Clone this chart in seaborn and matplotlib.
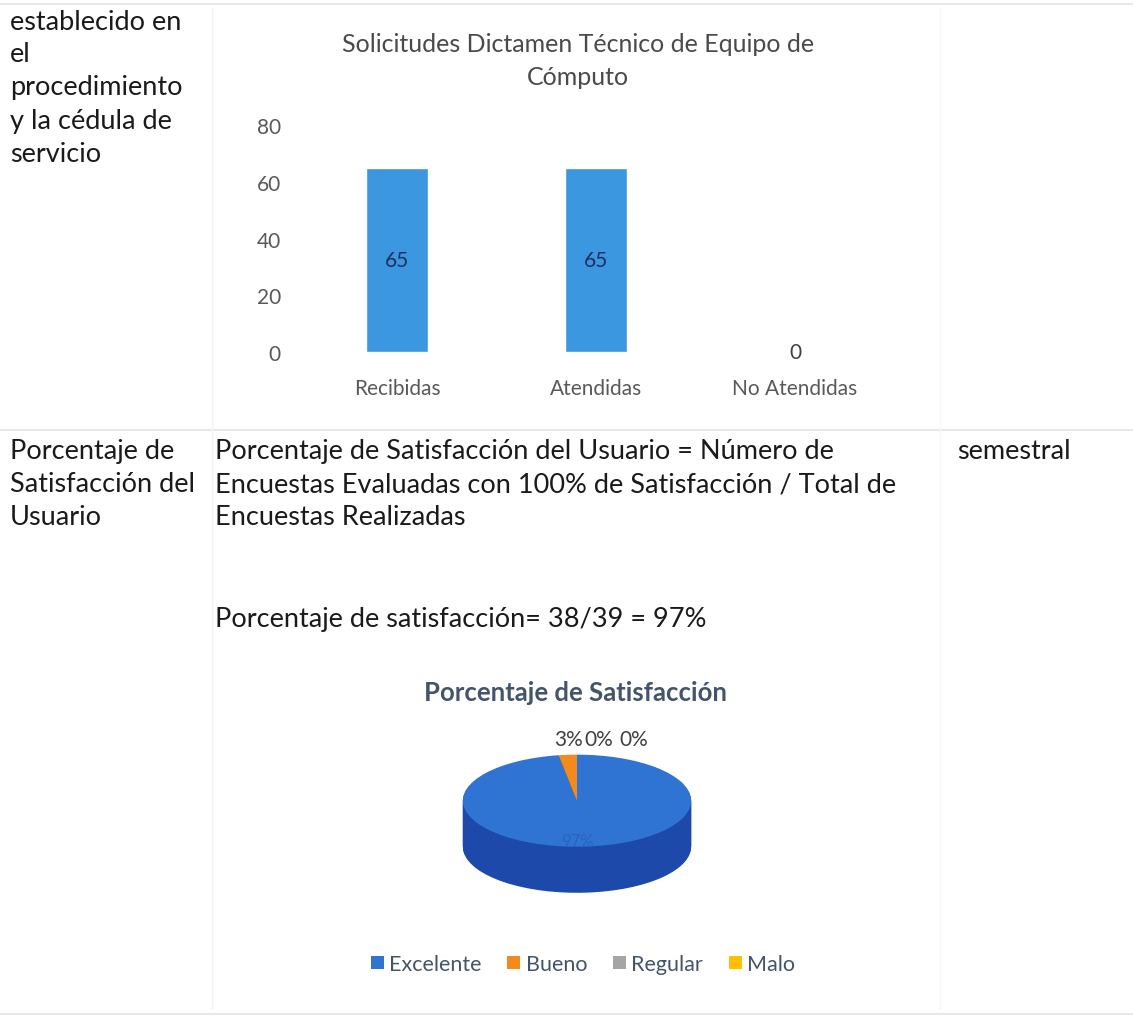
import numpy as np
import pandas as pd
import seaborn as sns
import matplotlib.pyplot as plt
from matplotlib.lines import Line2D
from matplotlib.patches import Patch

# ---- data ----
bar_categories = ["Recibidas", "Atendidas", "No Atendidas"]
bar_values = [65, 65, 0]
bar_yticks = [0, 20, 40, 60, 80]

pie_categories = ["Excelente", "Bueno", "Regular", "Malo"]
pie_counts = [38, 1, 0, 0]
pie_colors = ["#3074D3", "#F28A1C", "#A5A5A5", "#FFC000"]
pie_side_colors = ["#1C49AA", "#C0660E", "#7F7F7F", "#C99700"]

sns.set_theme(style="white")
plt.rcParams["font.family"] = ["Lato", "DejaVu Sans"]

W, H = 1133, 1020
fig = plt.figure(figsize=(W / 100, H / 100), dpi=100)
fig.patch.set_facecolor("white")


def px(x, y):
    return x / W, 1 - y / H


body_color = "#1a1a1a"
body_size = 19.5

# ---- table rules ----
for yy in (5, 431, 1015):
    fig.add_artist(Line2D([0, 1], [1 - yy / H] * 2, color="#e8e8e8", lw=1.5))
fig.add_artist(Line2D([212 / W] * 2, [1 - 8 / H, 1 - 1010 / H], color="#f4f4f4", lw=1.0))
fig.add_artist(Line2D([940 / W] * 2, [1 - 8 / H, 1 - 1010 / H], color="#f6f6f6", lw=1.0))

# ---- document text ----
left_lines = ["establecido en", "el", "procedimiento", "y la cédula de", "servicio"]
for i, t in enumerate(left_lines):
    fig.text(*px(10, 22 + 33 * i), t, fontsize=body_size, color=body_color, va="center", ha="left")

row2_left = ["Porcentaje de", "Satisfacción del", "Usuario"]
for i, t in enumerate(row2_left):
    fig.text(*px(10, 452 + 33 * i), t, fontsize=body_size, color=body_color, va="center", ha="left")

row2_mid = ["Porcentaje de Satisfacción del Usuario = Número de",
            "Encuestas Evaluadas con 100% de Satisfacción / Total de",
            "Encuestas Realizadas"]
for i, t in enumerate(row2_mid):
    fig.text(*px(215, 452 + 33 * i), t, fontsize=body_size, color=body_color, va="center", ha="left")

fig.text(*px(957, 452), "semestral", fontsize=body_size, color=body_color, va="center", ha="left")
fig.text(*px(215, 620), "Porcentaje de satisfacción= 38/39 = 97%", fontsize=body_size,
         color=body_color, va="center", ha="left")

# ---- bar chart ----
ax = fig.add_axes([297.5 / W, 1 - 353 / H, 597 / W, (353 - 126) / H])
df = pd.DataFrame({"cat": bar_categories, "val": bar_values})
sns.barplot(data=df, x="cat", y="val", color="#3A97E0", width=0.31, saturation=1, ax=ax)
ax.set_xlim(-0.5, 2.5)
ax.set_ylim(0, 80)
ax.set_yticks(bar_yticks)
ax.set_xlabel("")
ax.set_ylabel("")
for s in ax.spines.values():
    s.set_visible(False)
ax.tick_params(axis="both", length=0, labelsize=15, labelcolor="#595959")
ax.tick_params(axis="y", pad=12)
ax.tick_params(axis="x", pad=19)
labels = ax.bar_label(ax.containers[0], labels=[str(v) for v in bar_values],
                      label_type="center", fontsize=15)
for lab, v in zip(labels, bar_values):
    lab.set_color("#1F2F5F" if v > 0 else "#404040")
fig.text(*px(578, 45), "Solicitudes Dictamen Técnico de Equipo de", fontsize=18,
         color="#4a4a4a", ha="center", va="center")
fig.text(*px(578, 78), "Cómputo", fontsize=18, color="#4a4a4a", ha="center", va="center")

# ---- pie chart (extruded ellipse) ----
pax = fig.add_axes([440 / W, 1 - 903 / H, 274 / W, (903 - 728) / H])
depth = 1.0
for d in np.linspace(depth, 0.02, 45):
    pax.pie(pie_counts, colors=pie_side_colors, startangle=90, counterclock=False,
            center=(0, -d), wedgeprops=dict(linewidth=0))
pax.pie(pie_counts, colors=pie_colors, startangle=90, counterclock=False,
        center=(0, 0), wedgeprops=dict(linewidth=0))
pax.set_aspect("auto")
pax.set_xlim(-1.2, 1.2)
pax.set_ylim(-2.2, 1.6)
pax.axis("off")

total = sum(pie_counts)
pcts = [f"{round(100 * c / total):.0f}%" for c in pie_counts]
# main slice label sits on the face, the small slices above the rim
pax.text(0, -0.88, pcts[0], fontsize=12, color="#2A62C2", ha="center", va="center")
for k, xoff in zip(range(1, 4), (-0.07, 0.19, 0.5)):
    pax.text(xoff, 1.35, pcts[k], fontsize=15, color="#404040", ha="center", va="center")

fig.text(*px(576, 693), "Porcentaje de Satisfacción", fontsize=18.5, fontweight="bold",
         color="#44546A", ha="center", va="center")

handles = [Patch(facecolor=c, edgecolor="none") for c in pie_colors]
fig.legend(handles, pie_categories, loc="center", bbox_to_anchor=px(583, 965),
           ncol=4, frameon=False, fontsize=15.5, labelcolor="#44546A",
           handlelength=0.6, handleheight=0.6, handletextpad=0.25, columnspacing=1.2)

fig.savefig("out.png", dpi=100, facecolor="white")
